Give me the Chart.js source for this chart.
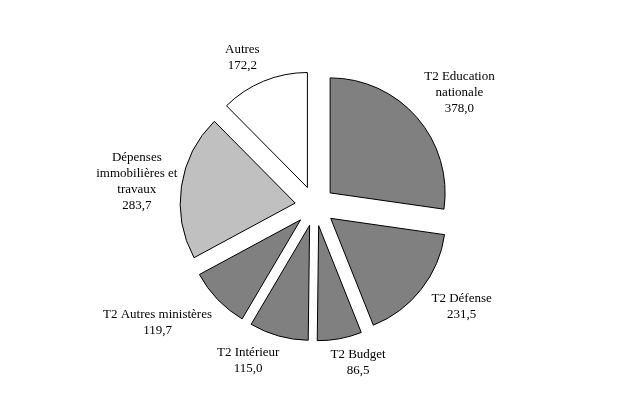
<!DOCTYPE html>
<html>
<head>
<meta charset="utf-8">
<script src="https://cdn.jsdelivr.net/npm/chart.js@4"></script>
<style>
    html, body { margin: 0; padding: 0; background: #ffffff; }
    #wrap { width: 621px; height: 397px; }
</style>
</head>
<body>
<div id="wrap"><canvas id="pieChart" width="621" height="397"></canvas></div>
<script>
/* ---------------------------------------------------
   Data
---------------------------------------------------*/

const categories = [
    ["T2 Education", "nationale"],
    ["T2 Défense"],
    ["T2 Budget"],
    ["T2 Intérieur"],
    ["T2 Autres ministères"],
    ["Dépenses", "immobilières et", "travaux"],
    ["Autres"]
];

const amounts = [378.0, 231.5, 86.5, 115.0, 119.7, 283.7, 172.2];

const sliceColors = ["#808080", "#808080", "#808080", "#808080", "#808080", "#c0c0c0", "#ffffff"];

/* label nudges from the default radial spot (px) */
const labelNudge = [[16, -2], [13, -5], [12, -11], [-21, -9], [-35, -1], [-10, 1], [-8, 9]];

const EXPLODE = 20;
const LABEL_DIST = 150;
const LINE_H = 16;

/* ---------------------------------------------------
   Plugins
---------------------------------------------------*/

const explodePlugin = {
    id: "explode",
    afterDatasetUpdate(chart, args) {
        args.meta.data.forEach(arc => {
            const mid = (arc.startAngle + arc.endAngle) / 2;
            arc.x += Math.cos(mid) * EXPLODE;
            arc.y += Math.sin(mid) * EXPLODE;
        });
    }
};

const labelPlugin = {
    id: "sliceLabels",
    afterDraw(chart) {
        const ctx = chart.ctx;
        const meta = chart.getDatasetMeta(0);
        ctx.save();
        ctx.font = "13px 'Liberation Serif', 'Times New Roman', serif";
        ctx.fillStyle = "#000000";
        ctx.textAlign = "center";
        ctx.textBaseline = "middle";
        meta.data.forEach((arc, i) => {
            const mid = (arc.startAngle + arc.endAngle) / 2;
            const cx = arc.x + Math.cos(mid) * LABEL_DIST + labelNudge[i][0];
            const cy = arc.y + Math.sin(mid) * LABEL_DIST + labelNudge[i][1];
            const lines = categories[i].concat([amounts[i].toFixed(1).replace(".", ",")]);
            const top = cy - (lines.length - 1) * LINE_H / 2;
            lines.forEach((line, k) => {
                ctx.fillText(line, cx, top + k * LINE_H);
            });
        });
        ctx.restore();
    }
};

/* ---------------------------------------------------
   Chart
---------------------------------------------------*/

const ctx = document.getElementById("pieChart");

new Chart(ctx, {
    type: "pie",
    data: {
        labels: categories,
        datasets: [{
            data: amounts,
            backgroundColor: sliceColors,
            borderColor: "#000000",
            borderWidth: 1
        }]
    },
    options: {
        responsive: false,
        animation: false,
        events: [],
        radius: 115,
        layout: {
            padding: { left: 9, top: 15, right: 0, bottom: 0 }
        },
        plugins: {
            legend: { display: false },
            tooltip: { enabled: false }
        }
    },
    plugins: [explodePlugin, labelPlugin]
});
</script>
</body>
</html>
